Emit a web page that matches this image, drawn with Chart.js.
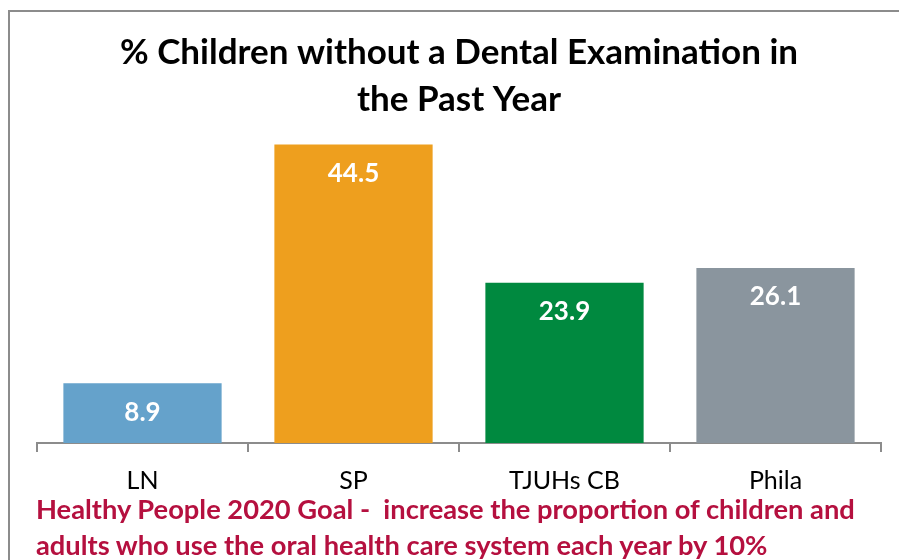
<!DOCTYPE html>
<html>
<head>
<meta charset="utf-8">
<script src="https://cdn.jsdelivr.net/npm/chart.js@4.4.0/dist/chart.umd.min.js"></script>
<style>
  html, body { margin: 0; padding: 0; background: #fff; }
  #wrap { position: relative; width: 899px; height: 560px; overflow: hidden; }
  #frame { position: absolute; left: 8px; top: 10px; width: 1000px; height: 700px;
           border-left: 2px solid #8c8c8c; border-top: 2px solid #8c8c8c; box-sizing: border-box; }
  canvas { position: absolute; left: 0; top: 0; }
  #goal { position: absolute; left: 36px; top: 491px; color: #b5103f;
          font-family: Lato, "Open Sans", sans-serif; font-weight: bold; font-size: 27.3px;
          line-height: 36px; white-space: pre; }
</style>
</head>
<body>
<div id="wrap">
  <div id="frame"></div>
  <canvas id="c" width="899" height="560"></canvas>
  <div id="goal"></div>
</div>
<script>
const titleLines = ["% Children without a Dental Examination in", "the Past Year"];
const categories = ["LN", "SP", "TJUHs CB", "Phila"];
const values = [8.9, 44.5, 23.9, 26.1];
const barColors = ["#65a2cb", "#ee9f1e", "#00893f", "#8a959e"];
const goalText = "Healthy People 2020 Goal -  increase the proportion of children and\nadults who use the oral health care system each year by 10%";

document.getElementById('goal').textContent = goalText;

const valueLabels = {
  id: 'valueLabels',
  afterDatasetsDraw(chart) {
    const ctx = chart.ctx;
    const meta = chart.getDatasetMeta(0);
    ctx.save();
    ctx.fillStyle = '#ffffff';
    ctx.font = 'bold 26px Lato, "Open Sans", sans-serif';
    ctx.textAlign = 'center';
    ctx.textBaseline = 'middle';
    meta.data.forEach((bar, i) => {
      ctx.fillText(values[i].toFixed(1), bar.x, bar.y + 29);
    });
    ctx.restore();
  }
};

new Chart(document.getElementById('c'), {
  type: 'bar',
  data: {
    labels: categories,
    datasets: [{
      data: values,
      backgroundColor: barColors,
      borderWidth: 0,
      categoryPercentage: 0.75,
      barPercentage: 1.0
    }]
  },
  options: {
    responsive: false,
    animation: false,
    layout: { padding: { left: 37, right: 18, top: 29, bottom: 50 } },
    plugins: {
      legend: { display: false },
      tooltip: { enabled: false },
      title: {
        display: true,
        text: titleLines,
        color: '#000',
        font: { family: 'Lato, "Open Sans", sans-serif', size: 35, weight: 'bold', lineHeight: 1.343 },
        padding: { top: 0, bottom: 0 }
      }
    },
    scales: {
      x: {
        grid: { display: true, drawOnChartArea: false, drawTicks: true, tickLength: 9, color: '#8c8c8c', lineWidth: 2, offset: true },
        border: { display: true, color: '#8c8c8c', width: 2 },
        ticks: { color: '#000', padding: 14, font: { family: 'Lato, "Open Sans", sans-serif', size: 25 } }
      },
      y: {
        display: false,
        min: 0,
        max: 47.7
      }
    }
  },
  plugins: [valueLabels]
});
</script>
</body>
</html>
